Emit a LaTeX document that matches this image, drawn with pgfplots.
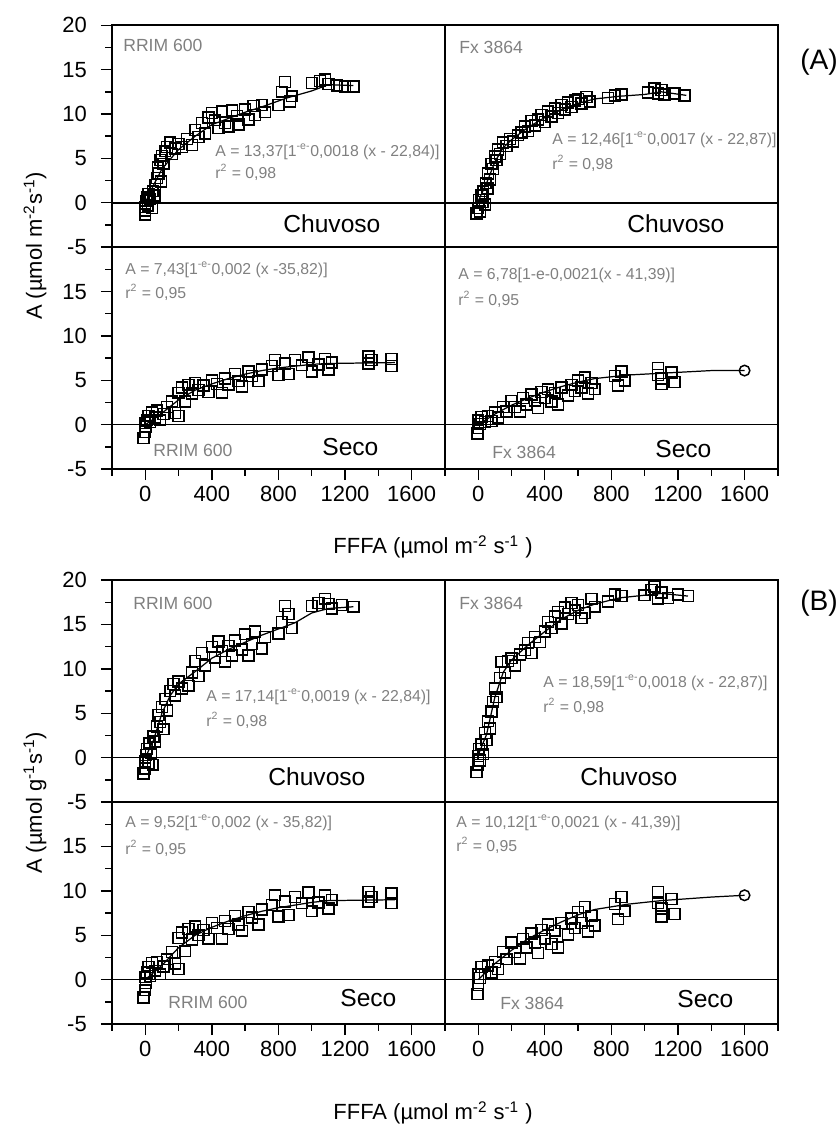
\documentclass[border=0pt]{standalone}
\usepackage{fontspec}
\setmainfont{Liberation Sans}
\usepackage{pgfplots}
\pgfplotsset{compat=1.18}

% shared look of the eight panels
\pgfplotsset{
  panel/.style={
    scale only axis, width=6.66cm, height=4.44cm, anchor=south west,
    xmin=-200, xmax=1800, ymin=-5, ymax=20,
    axis line style={line width=0.95pt},
    tick style={black, line width=0.8pt},
    tick align=outside,
    major tick length=0.22cm, minor tick length=0.13cm,
    xtick=\empty, ytick=\empty, minor xtick={}, minor ytick={},
    xtick pos=bottom, ytick pos=left,
    tick label style={font=\fontsize{12.5}{14}\selectfont},
    yticklabel style={xshift=-0.16cm},
    /pgf/number format/assume math mode=true,
    /pgf/number format/1000 sep={},
  },
  lefty/.style={ytick={-5,0,...,20}, minor ytick={-2.5,2.5,...,17.5}},
  lefty2/.style={ytick={-5,0,...,15}, minor ytick={-2.5,2.5,...,17.5}},
  botx/.style={xtick={0,400,...,1600}, minor xtick={-200,200,...,1800}},
  pts/.style={only marks, mark=square, mark size=3.1pt, mark options={line width=0.85pt}, black},
  fit/.style={no marks, black, line width=0.7pt},
  zero/.style={no marks, black, line width=0.85pt},
}
\newcommand{\eqn}[2]{#1\textsuperscript{-e-}#2}
\tikzset{
  gtxt/.style={inner sep=0pt, anchor=west, text=black!50, font=\fontsize{9}{10}\selectfont},
  ctxt/.style={inner sep=0pt, anchor=west, font=\fontsize{14}{16}\selectfont},
}

\begin{document}
\begin{tikzpicture}[x=0.02cm, y=0.02cm]
\useasboundingbox (0,0) rectangle (838,1126);

% ================= (A) =================
\begin{axis}[panel, lefty, at={(2.24cm,17.58cm)}]
\addplot[zero] coordinates {(-200,0) (1800,0)};
\addplot[fit] coordinates {(0,0) (50,2) (100,3.8) (200,6) (300,7.5) (400,8.8) (500,9.5) (600,10.2) (700,10.8) (850,11.8) (1000,12.6) (1100,13.3) (1250,13.2)};
\addplot[pts] coordinates {
(0,-1.3) (0,-0.9) (0,-0.5) (5,0.2) (10,0.6) (15,-0.3) (20,1.0) (30,0.4) (40,-0.6) (45,1.3)
(55,0.8) (60,2.0) (70,2.8) (75,4.0) (80,3.3) (90,4.8) (95,2.4) (100,5.3) (110,4.4) (120,5.8)
(130,6.3) (150,6.8) (160,5.5) (180,6.1) (200,6.6) (220,6.3) (250,7.2) (280,6.5) (300,8.2) (320,7.4)
(340,9.0) (360,7.8) (380,9.6) (400,10.1) (420,9.3) (440,8.4) (460,10.3) (480,9.0) (500,8.6) (520,10.4)
(550,9.8) (560,8.8) (600,10.5) (620,9.4) (650,10.9) (660,9.9) (700,11.0) (720,10.2) (800,11.0) (820,12.5)
(840,13.6) (870,11.4) (880,12.0) (1000,13.5) (1050,13.7) (1080,13.9) (1100,13.4) (1150,13.2) (1200,13.1) (1250,13.1)};
\end{axis}

\begin{axis}[panel, at={(8.9cm,17.58cm)}]
\addplot[zero] coordinates {(-200,0) (1800,0)};
\addplot[fit] coordinates {(0,0.2) (50,2.2) (100,4.6) (150,6.2) (200,7.1) (300,8.5) (400,9.6) (500,10.5) (600,11.2) (700,11.7) (850,12.0) (1000,12.2) (1100,12.5) (1250,12.1)};
\addplot[pts] coordinates {
(-10,-1.2) (0,-0.6) (5,0.3) (10,-1.0) (20,0.8) (25,0.1) (30,1.3) (40,-0.2) (45,2.2) (55,1.6)
(60,3.3) (70,2.6) (80,4.4) (90,3.8) (100,5.2) (110,4.8) (120,6.0) (130,5.5) (150,6.8) (170,6.4)
(190,7.2) (210,6.9) (240,7.6) (260,7.9) (280,8.6) (300,8.1) (320,9.2) (340,8.7) (360,9.4) (380,9.9)
(400,9.1) (420,10.3) (440,9.7) (460,10.6) (480,10.1) (500,11.0) (520,10.5) (540,11.3) (560,10.8) (580,11.5)
(600,11.7) (620,11.2) (650,11.9) (670,11.4) (780,11.8) (820,12.1) (860,12.2) (1020,12.4) (1060,12.9) (1080,12.3)
(1100,12.7) (1120,12.2) (1180,12.3) (1240,12.1)};
\end{axis}

\begin{axis}[panel, lefty2, botx, at={(2.24cm,13.14cm)}]
\addplot[zero] coordinates {(-200,0) (1800,0)};
\addplot[fit] coordinates {(0,0) (100,1.3) (200,2.8) (300,3.9) (400,4.6) (500,5.2) (600,5.7) (700,6.1) (800,6.4) (1000,6.8) (1100,6.9) (1500,7.0)};
\addplot[pts] coordinates {
(-10,-1.5) (0,-0.8) (0,0.2) (5,-0.2) (10,0.5) (20,1.0) (30,0.3) (40,1.4) (60,0.8) (70,1.6)
(90,0.5) (110,1.2) (130,2.0) (160,2.6) (180,1.3) (200,1.0) (200,3.6) (220,4.2) (240,2.6) (260,4.5)
(280,3.5) (300,4.7) (320,3.9) (350,4.4) (380,3.7) (400,5.0) (430,4.6) (460,3.6) (480,5.2) (500,4.5)
(540,5.7) (560,4.9) (580,4.3) (620,6.0) (640,5.5) (680,4.9) (700,6.2) (760,6.6) (780,7.3) (800,5.6)
(840,6.9) (860,5.7) (900,7.3) (940,6.7) (980,7.6) (1000,6.0) (1040,6.8) (1080,7.4) (1100,6.2) (1120,7.0)
(1340,7.7) (1340,6.9) (1360,7.3) (1480,7.4) (1480,6.6)};
\end{axis}

\begin{axis}[panel, botx, at={(8.9cm,13.14cm)}]
\addplot[zero] coordinates {(-200,0) (1800,0)};
\addplot[fit] coordinates {(0,0) (100,1.2) (200,2.2) (300,3.0) (400,3.7) (500,4.3) (600,4.8) (700,5.2) (900,5.6) (1100,5.8) (1400,6.1) (1600,6.1)};
\addplot[pts] coordinates {
(-5,-1.0) (0,-0.4) (0,0.5) (10,0.1) (20,0.9) (40,0.3) (60,1.0) (80,0.4) (100,1.4) (120,0.8)
(150,2.0) (170,1.5) (200,2.7) (220,2.0) (250,1.5) (270,3.0) (290,2.3) (320,3.4) (340,2.7) (360,1.9)
(380,3.7) (400,3.0) (420,4.0) (440,2.6) (460,3.6) (480,2.3) (500,4.2) (540,3.3) (560,4.5) (580,3.8)
(600,5.0) (620,4.2) (640,5.3) (660,3.5) (680,4.7) (700,4.0) (820,5.5) (840,4.4) (860,6.0) (880,5.0)
(1080,6.4) (1080,5.6) (1100,4.6) (1100,5.2) (1160,5.9) (1180,4.8)};
\addplot[only marks, mark=o, mark size=3pt, mark options={line width=0.85pt}, black] coordinates {(1600,6.1)};
\end{axis}

% ================= (B) =================
\begin{axis}[panel, lefty, at={(2.24cm,6.48cm)}]
\addplot[zero] coordinates {(-200,0) (1800,0)};
\addplot[fit] coordinates {(0,0) (50,2) (100,5) (150,7) (200,8.3) (300,9.7) (400,11.2) (500,12.2) (600,13.0) (700,13.8) (800,14.5) (900,15.2) (1000,16.3) (1100,16.8) (1250,17.0)};
\addplot[pts] coordinates {
(-10,-1.8) (0,-1.2) (0,-0.4) (5,0.3) (10,1.0) (20,-0.6) (25,1.6) (35,0.5) (45,-0.8) (50,2.4)
(60,1.8) (70,3.5) (80,4.8) (90,4.0) (100,5.7) (110,3.2) (120,6.6) (130,5.3) (150,7.5) (170,8.3)
(180,7.0) (200,8.6) (220,7.8) (260,8.1) (280,9.6) (300,10.9) (320,9.2) (340,11.8) (360,10.4) (400,12.5)
(420,11.3) (440,13.1) (460,12.0) (480,10.8) (500,12.6) (520,11.5) (540,13.2) (580,12.2) (600,13.9) (620,11.5)
(640,12.8) (660,14.2) (700,12.3) (720,13.6) (800,14.0) (820,15.3) (840,17.1) (860,16.2) (880,14.6) (1000,17.1)
(1040,17.4) (1080,17.9) (1100,17.3) (1120,16.8) (1180,17.2) (1250,17.0)};
\end{axis}

\begin{axis}[panel, at={(8.9cm,6.48cm)}]
\addplot[zero] coordinates {(-200,0) (1800,0)};
\addplot[fit] coordinates {(0,0.3) (50,2.6) (100,6.8) (150,9.6) (200,11.0) (300,12.7) (400,14.2) (500,15.6) (600,16.6) (700,17.3) (850,18.0) (1000,18.3) (1100,18.5) (1260,18.2)};
\addplot[pts] coordinates {
(-10,-1.6) (0,-0.8) (0,0.2) (5,1.0) (10,-0.3) (20,1.5) (30,0.4) (40,2.8) (50,2.0) (60,4.1)
(70,3.3) (80,5.2) (90,6.3) (100,7.8) (110,6.8) (130,9.0) (140,10.8) (160,9.6) (180,10.9) (200,11.2)
(220,10.4) (250,11.6) (280,12.1) (300,12.9) (320,11.8) (340,13.6) (370,13.0) (400,14.2) (420,15.3) (440,14.6)
(460,15.9) (480,16.4) (500,15.1) (520,16.9) (540,16.2) (560,17.4) (580,16.6) (600,17.2) (620,15.7) (640,16.3)
(680,17.9) (700,17.0) (780,17.6) (820,18.4) (860,18.2) (1000,18.3) (1040,18.9) (1060,19.3) (1080,17.9) (1100,18.6)
(1140,18.0) (1200,18.4) (1260,18.2)};
\end{axis}

\begin{axis}[panel, lefty2, botx, at={(2.24cm,2.04cm)}]
\addplot[zero] coordinates {(-200,0) (1800,0)};
\addplot[fit] coordinates {(0,0) (100,1.6) (200,3.6) (300,5.0) (400,5.9) (500,6.6) (600,7.2) (700,7.7) (800,8.1) (1000,8.7) (1100,8.9) (1500,9.0)};
\addplot[pts] coordinates {
(-10,-2.0) (0,-1.2) (0,0.3) (5,-0.4) (10,0.8) (20,1.4) (30,0.4) (40,1.9) (60,1.0) (70,2.0)
(90,0.6) (110,1.5) (130,2.3) (160,3.1) (180,1.8) (200,1.2) (200,4.7) (220,5.3) (240,3.2) (260,5.7)
(280,4.5) (300,6.0) (320,5.0) (350,5.6) (380,4.6) (400,6.4) (430,5.8) (460,4.6) (480,6.6) (500,5.7)
(540,7.2) (560,6.2) (580,5.5) (620,7.6) (640,7.0) (680,6.2) (700,7.9) (760,8.4) (780,9.5) (800,7.1)
(840,8.8) (860,7.3) (900,9.3) (940,8.6) (980,9.8) (1000,7.7) (1040,8.7) (1080,9.5) (1100,8.0) (1120,9.0)
(1340,9.9) (1340,8.8) (1360,9.3) (1480,9.7) (1480,8.6)};
\end{axis}

\begin{axis}[panel, botx, at={(8.9cm,2.04cm)}]
\addplot[zero] coordinates {(-200,0) (1800,0)};
\addplot[fit] coordinates {(0,0) (100,1.8) (200,3.3) (300,4.6) (400,5.6) (500,6.5) (600,7.3) (700,7.9) (900,8.5) (1100,8.9) (1400,9.3) (1600,9.5)};
\addplot[pts] coordinates {
(-5,-1.6) (0,-0.6) (0,0.6) (10,0.2) (20,1.4) (40,0.6) (60,1.6) (80,0.8) (100,2.0) (120,1.2)
(150,3.1) (170,2.3) (200,4.2) (220,3.1) (250,2.4) (270,4.6) (290,3.6) (320,5.2) (340,4.2) (360,3.0)
(380,5.6) (400,4.6) (420,6.2) (440,4.0) (460,5.5) (480,3.6) (500,6.4) (540,5.1) (560,6.9) (580,5.8)
(600,7.6) (620,6.4) (640,8.2) (660,5.4) (680,7.2) (700,6.1) (820,8.5) (840,6.8) (860,9.3) (880,7.7)
(1080,9.9) (1080,8.6) (1100,7.1) (1100,8.0) (1160,9.1) (1180,7.4)};
\addplot[only marks, mark=o, mark size=3pt, mark options={line width=0.85pt}, black] coordinates {(1600,9.5)};
\end{axis}

% ---- texts (A) ----
\node[gtxt, font=\fontsize{10}{12}\selectfont] at (123,1081) {RRIM 600};
\node[gtxt] at (215,974) {\eqn{A = 13,37[1}{0,0018 (x - 22,84)]}};
\node[gtxt] at (215,954) {r\textsuperscript{2} = 0,98};
\node[ctxt] at (283,902) {Chuvoso};
\node[gtxt, font=\fontsize{10}{12}\selectfont] at (459,1079) {Fx 3864};
\node[gtxt] at (552,986) {\eqn{A = 12,46[1}{0,0017 (x - 22,87)]}};
\node[gtxt] at (552,963) {r\textsuperscript{2} = 0,98};
\node[ctxt] at (627,902) {Chuvoso};
\node[ctxt, font=\fontsize{16}{18}\selectfont] at (800,1064) {(A)};
\node[gtxt] at (125,856) {\eqn{A = 7,43[1}{0,002 (x -35,82)]}};
\node[gtxt] at (125,834) {r\textsuperscript{2} = 0,95};
\node[gtxt, font=\fontsize{10}{12}\selectfont] at (153,676) {RRIM 600};
\node[ctxt] at (322,679) {Seco};
\node[gtxt] at (458,851) {A = 6,78[1-e-0,0021(x - 41,39)]};
\node[gtxt] at (458,827) {r\textsuperscript{2} = 0,95};
\node[gtxt, font=\fontsize{10}{12}\selectfont] at (492,674) {Fx 3864};
\node[ctxt] at (655,677) {Seco};
\node[rotate=90, inner sep=0pt, font=\fontsize{12.5}{14}\selectfont] at (35,880) {A (µmol m\textsuperscript{-2}s\textsuperscript{-1})};
\node[inner sep=0pt, font=\fontsize{12.5}{14}\selectfont] at (433,579) {FFFA (µmol m\textsuperscript{-2} s\textsuperscript{-1} )};

% ---- texts (B) ----
\node[gtxt, font=\fontsize{10}{12}\selectfont] at (133,523) {RRIM 600};
\node[gtxt] at (206,429) {\eqn{A = 17,14[1}{0,0019 (x - 22,84)]}};
\node[gtxt] at (206,406) {r\textsuperscript{2} = 0,98};
\node[ctxt] at (268,349) {Chuvoso};
\node[gtxt, font=\fontsize{10}{12}\selectfont] at (459,523) {Fx 3864};
\node[gtxt] at (543,443) {\eqn{A = 18,59[1}{0,0018 (x - 22,87)]}};
\node[gtxt] at (543,420) {r\textsuperscript{2} = 0,98};
\node[ctxt] at (580,349) {Chuvoso};
\node[ctxt, font=\fontsize{16}{18}\selectfont] at (800,523) {(B)};
\node[gtxt] at (125,303) {\eqn{A = 9,52[1}{0,002 (x - 35,82)]}};
\node[gtxt] at (125,278) {r\textsuperscript{2} = 0,95};
\node[gtxt, font=\fontsize{10}{12}\selectfont] at (168,124) {RRIM 600};
\node[ctxt] at (340,128) {Seco};
\node[gtxt] at (456,303) {\eqn{A = 10,12[1}{0,0021 (x - 41,39)]}};
\node[gtxt] at (456,281) {r\textsuperscript{2} = 0,95};
\node[gtxt, font=\fontsize{10}{12}\selectfont] at (500,123) {Fx 3864};
\node[ctxt] at (677,127) {Seco};
\node[rotate=90, inner sep=0pt, font=\fontsize{12.5}{14}\selectfont] at (35,323) {A (µmol g\textsuperscript{-1}s\textsuperscript{-1})};
\node[inner sep=0pt, font=\fontsize{12.5}{14}\selectfont] at (433,13) {FFFA (µmol m\textsuperscript{-2} s\textsuperscript{-1} )};
\end{tikzpicture}
\end{document}
